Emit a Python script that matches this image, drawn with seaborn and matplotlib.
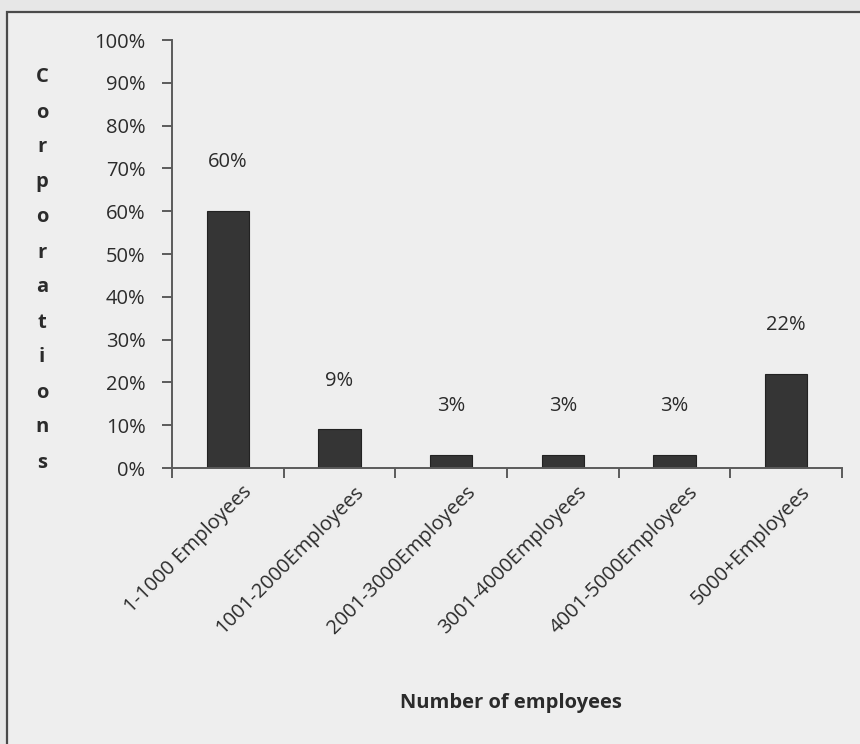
import matplotlib
matplotlib.use("Agg")
import matplotlib.pyplot as plt
from matplotlib.patches import Rectangle
from matplotlib.ticker import FixedLocator, PercentFormatter
from matplotlib.transforms import ScaledTranslation
import seaborn as sns
import pandas as pd

categories = ["1-1000 Employees", "1001-2000Employees", "2001-3000Employees",
              "3001-4000Employees", "4001-5000Employees", "5000+Employees"]
shares = [60, 9, 3, 3, 3, 22]
y_ticks = [0, 10, 20, 30, 40, 50, 60, 70, 80, 90, 100]
y_title = "Corporations"
x_title = "Number of employees"

sns.set_style("white")
plt.rcParams["font.family"] = ["Open Sans", "DejaVu Sans"]

text_col = "#2b2b2b"
bar_col = "#353535"
axis_col = "#5a5a5a"
fs = 14.5

fig = plt.figure(figsize=(8.6, 7.44), dpi=100, facecolor="#e7e7e7")
# panel frame around the chart, kept behind the axes
fig.patches.append(Rectangle((7 / 860, -0.02), 1.05, 1 - 12 / 744 + 0.02,
                             transform=fig.transFigure, facecolor="#eeeeee",
                             edgecolor="#4a4a4a", linewidth=1.6, zorder=-5))

ax = fig.add_axes([172 / 860, 1 - 468 / 744, (842 - 172) / 860, (468 - 40) / 744])
ax.set_facecolor("none")
ax.set_zorder(2)

df = pd.DataFrame({"group": categories, "share": shares})
sns.barplot(data=df, x="group", y="share", color=bar_col, width=0.38,
            saturation=1, edgecolor="#222222", linewidth=0.8, ax=ax)

ax.set_ylim(0, 100)
ax.set_xlim(-0.5, len(categories) - 0.5)
ax.yaxis.set_major_locator(FixedLocator(y_ticks))
ax.yaxis.set_major_formatter(PercentFormatter(decimals=0))

for spine in ["top", "right"]:
    ax.spines[spine].set_visible(False)
for spine in ["left", "bottom"]:
    ax.spines[spine].set_color(axis_col)
    ax.spines[spine].set_linewidth(1.4)

ax.tick_params(axis="y", left=True, direction="out", length=7, width=1.4,
               color=axis_col, labelsize=fs, labelcolor=text_col, pad=12)
ax.tick_params(axis="x", which="major", bottom=False, length=0, labelsize=fs,
               labelcolor=text_col, pad=10)
ax.xaxis.set_minor_locator(FixedLocator([i + 0.5 for i in range(-1, len(categories))]))
ax.tick_params(axis="x", which="minor", bottom=True, direction="out", length=7,
               width=1.4, color=axis_col)
shift = ScaledTranslation(14 / 100, 0, fig.dpi_scale_trans)
for lab in ax.get_xticklabels():
    lab.set_rotation(45)
    lab.set_ha("right")
    lab.set_rotation_mode("anchor")
    lab.set_transform(lab.get_transform() + shift)

ax.set_xlabel("")
ax.set_ylabel("")

for container in ax.containers:
    ax.bar_label(container, labels=[f"{v}%" for v in shares], padding=28,
                 fontsize=fs, color=text_col)

# stacked vertical axis title
fig.text(42 / 860, 1 - 270 / 744, "\n".join(y_title), ha="center", va="center",
         fontsize=fs, fontweight="bold", color=text_col, linespacing=2.0)
fig.text(511 / 860, 1 - 703 / 744, x_title, ha="center", va="center",
         fontsize=fs, fontweight="bold", color=text_col)

fig.savefig("out.png", dpi=100, facecolor=fig.get_facecolor())
